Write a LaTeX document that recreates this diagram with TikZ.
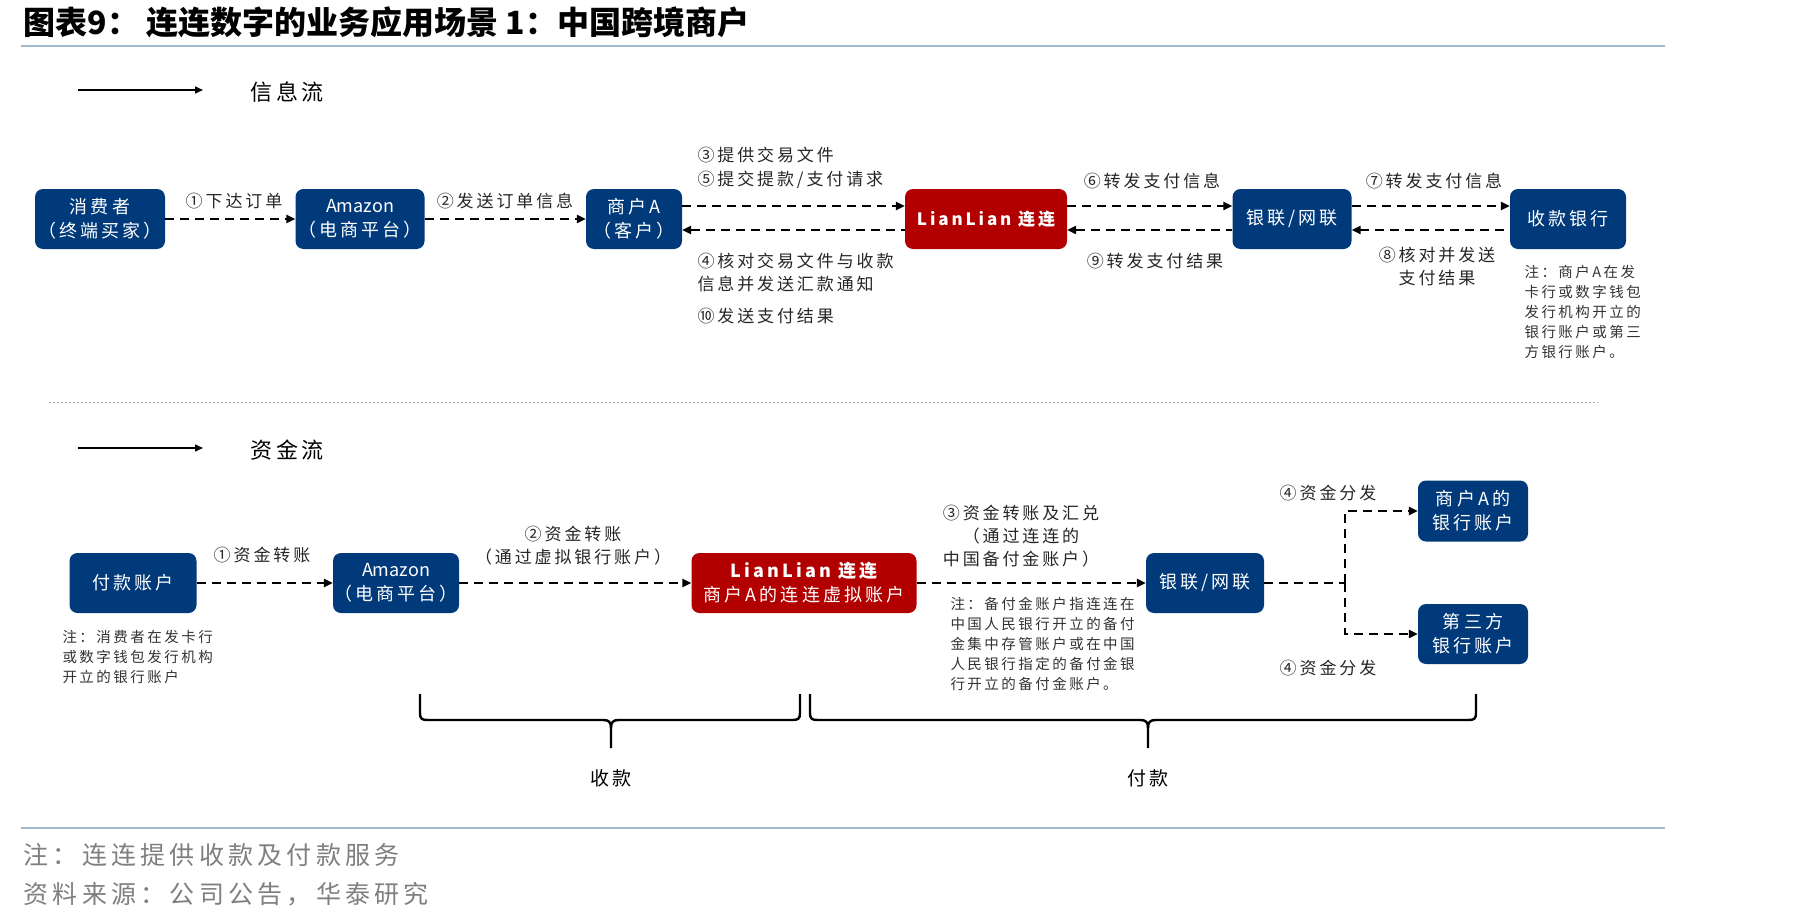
\documentclass[tikz,border=0pt]{standalone}
\usepackage{fontspec}
\setmainfont{Noto Sans CJK SC}[LetterSpace=17]
\newfontfamily\plainfont{Noto Sans CJK SC}
\usetikzlibrary{arrows.meta}
\definecolor{navy}{HTML}{003A7A}
\definecolor{llred}{HTML}{B20000}
\definecolor{rulecol}{HTML}{A3B8CE}
\definecolor{footgray}{HTML}{7F7F7F}
\begin{document}
\begin{tikzpicture}[x=1pt, y=-1pt, >={Triangle[length=9pt,width=8pt]},
  box/.style={fill=navy, text=white, rounded corners=8pt, align=center, inner sep=0pt,
    minimum height=60pt, font=\fontsize{18}{24}\selectfont},
  redbox/.style={box, fill=llred},
  flow/.style={dash pattern=on 9pt off 6pt, line width=2.6pt},
  lbl/.style={font=\fontsize{17}{23}\selectfont, text=black!85, align=center},
  note/.style={font=\fontsize{14.5}{20}\selectfont, align=left, text=black!80, anchor=north west}]
\useasboundingbox (0,0) rectangle (1819,923);

% title and rules
\node[anchor=west, font=\fontsize{32}{36}\selectfont\plainfont\bfseries] (title) at (20,22) {图表9：\ 连连数字的业务应用场景 1：中国跨境商户};
\draw[rulecol, line width=2pt] (21,46) -- (1665,46);
\draw[rulecol, line width=2pt] (21,828) -- (1665,828);

% information flow
\draw[->, line width=1.5pt, >={Triangle[length=8pt,width=7pt]}] (78,90) -- (203,90);
\node[anchor=west, font=\fontsize{22}{26}\selectfont] (info) at (247,92) {信息流};

\node[box, minimum width=130pt] (buyer) at (100,219) {消费者\\（终端买家）};
\node[box, minimum width=129pt] (amz) at (360,219) {{\plainfont Amazon}\\（电商平台）};
\node[box, minimum width=96pt] (shop) at (634,219) {商户A\\（客户）};
\node[redbox, minimum width=162pt, font=\fontsize{17}{24}\selectfont\bfseries] (lian) at (986,219) {LianLian 连连};
\node[box, minimum width=119pt] (union) at (1292,219) {银联/网联};
\node[box, minimum width=116pt] (rbank) at (1568,219) {收款银行};

\draw[flow,->] (buyer) -- (amz);
\draw[flow,->] (amz) -- (shop);
\draw[flow,->] ([yshift=13pt]shop.east) -- ([yshift=13pt]lian.west);
\draw[flow,<-] ([yshift=-11pt]shop.east) -- ([yshift=-11pt]lian.west);
\draw[flow,->] ([yshift=13pt]lian.east) -- ([yshift=13pt]union.west);
\draw[flow,<-] ([yshift=-11pt]lian.east) -- ([yshift=-11pt]union.west);
\draw[flow,->] ([yshift=13pt]union.east) -- ([yshift=13pt]rbank.west);
\draw[flow,<-] ([yshift=-11pt]union.east) -- ([yshift=-11pt]rbank.west);

\node[lbl] at (234,201) {①下达订单};
\node[lbl] at (505,201) {②发送订单信息};
\node[lbl, anchor=west] at (694,155) {③提供交易文件};
\node[lbl, anchor=west] at (694,180) {⑤提交提款/支付请求};
\node[lbl, anchor=west] at (694,261) {④核对交易文件与收款};
\node[lbl, anchor=west] at (694,284) {信息并发送汇款通知};
\node[lbl, anchor=west] at (694,316) {⑩发送支付结果};
\node[lbl] at (1152,181) {⑥转发支付信息};
\node[lbl] at (1155,261) {⑨转发支付结果};
\node[lbl] at (1434,181) {⑦转发支付信息};
\node[lbl] at (1437,267) {⑧核对并发送\\支付结果};
\node[note] at (1521,262) {注：商户A在发\\卡行或数字钱包\\发行机构开立的\\银行账户或第三\\方银行账户。};

\draw[gray!70, line width=1pt, dash pattern=on 2pt off 2pt] (49,402) -- (1598,402);

% fund flow
\draw[->, line width=1.5pt, >={Triangle[length=8pt,width=7pt]}] (78,448) -- (203,448);
\node[anchor=west, font=\fontsize{22}{26}\selectfont] (fund) at (247,450) {资金流};

\node[box, minimum width=127pt] (payer) at (133,583) {付款账户};
\node[box, minimum width=126pt] (amz2) at (396,583) {{\plainfont Amazon}\\（电商平台）};
\node[redbox, minimum width=225pt] (lian2) at (804,583) {{\bfseries LianLian 连连}\\商户A的连连虚拟账户};
\node[box, minimum width=118pt] (union2) at (1205,583) {银联/网联};
\node[box, minimum width=110pt, minimum height=61pt] (bankA) at (1473,511) {商户A的\\银行账户};
\node[box, minimum width=110pt] (third) at (1473,634) {第三方\\银行账户};
\coordinate (split) at (1345,583);

\draw[flow,->] (payer) -- (amz2);
\draw[flow,->] (amz2) -- (lian2);
\draw[flow,->] (lian2) -- (union2);
\draw[flow] (union2) -- (split);
\draw[flow,->] (split) |- (bankA);
\draw[flow,->] (split) |- (third);

\node[lbl] at (262,555) {①资金转账};
\node[lbl] at (573,546) {②资金转账\\（通过虚拟银行账户）};
\node[lbl] at (1021,536) {③资金转账及汇兑\\（通过连连的\\中国备付金账户）};
\node[lbl] at (1328,493) {④资金分发};
\node[lbl] at (1328,668) {④资金分发};
\node[note] at (59,627) {注：消费者在发卡行\\或数字钱包发行机构\\开立的银行账户};
\node[note] at (947,594) {注：备付金账户指连连在\\中国人民银行开立的备付\\金集中存管账户或在中国\\人民银行指定的备付金银\\行开立的备付金账户。};

% braces
\draw[line width=2.4pt] (420,694) -- (420,713) .. controls (420,719) and (422,720) .. (428,720) -- (603,720)
  .. controls (609,720) and (611,722) .. (611,728) -- (611,748);
\draw[line width=2.4pt] (611,728) .. controls (611,722) and (613,720) .. (619,720) -- (792,720)
  .. controls (798,720) and (800,719) .. (800,713) -- (800,694);
\draw[line width=2.4pt] (810,694) -- (810,713) .. controls (810,719) and (812,720) .. (818,720) -- (1140,720)
  .. controls (1146,720) and (1148,722) .. (1148,728) -- (1148,748);
\draw[line width=2.4pt] (1148,728) .. controls (1148,722) and (1150,720) .. (1156,720) -- (1468,720)
  .. controls (1474,720) and (1476,719) .. (1476,713) -- (1476,694);
\node[font=\fontsize{19}{22}\selectfont] (recv) at (611,778) {收款};
\node[font=\fontsize{19}{22}\selectfont] (pay) at (1148,778) {付款};

% footer
\node[anchor=west, text=footgray, font=\fontsize{25}{28}\selectfont] (foot1) at (20,855) {注：连连提供收款及付款服务};
\node[anchor=west, text=footgray, font=\fontsize{25}{28}\selectfont] (foot2) at (20,894) {资料来源：公司公告，华泰研究};
\end{tikzpicture}
\end{document}
